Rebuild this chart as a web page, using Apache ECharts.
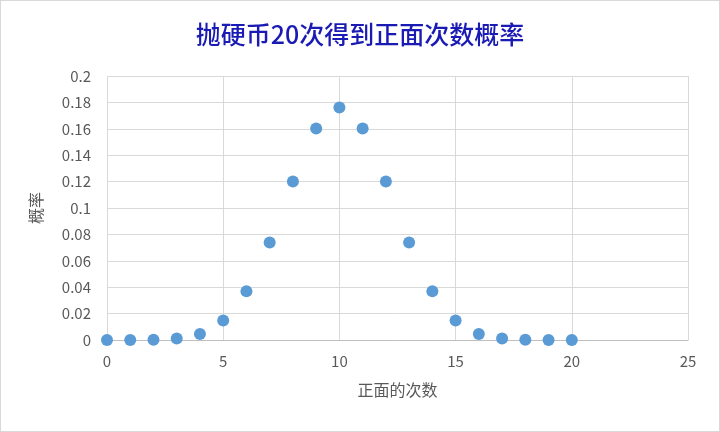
<!DOCTYPE html>
<html>
<head>
<meta charset="utf-8">
<script src="https://cdn.jsdelivr.net/npm/echarts@6/dist/echarts.min.js"></script>
<style>
  html, body { margin: 0; padding: 0; background: #fff; }
  #main { width: 720px; height: 432px; box-sizing: border-box; border: 1px solid #d9d9d9; }
</style>
</head>
<body>
<div id="main"></div>
<script>
// 正面次数 0..20
var heads = [0, 1, 2, 3, 4, 5, 6, 7, 8, 9, 10, 11, 12, 13, 14, 15, 16, 17, 18, 19, 20];
// 概率
var probs = [0.000001, 0.00002, 0.0002, 0.0011, 0.0046, 0.0148, 0.037, 0.0739, 0.1201, 0.1602, 0.1762,
             0.1602, 0.1201, 0.0739, 0.037, 0.0148, 0.0046, 0.0011, 0.0002, 0.00002, 0.000001];

(function (){
var dom = document.getElementById("main");
var myChart = echarts.init(dom);
var points = heads.map(function (h, i) { return [h, probs[i]]; });
var option = {
    animation: false,
    title: {
        text: '抛硬币20次得到正面次数概率',
        left: 'center',
        top: 16,
        textStyle: {
            color: '#1a1ab4',
            fontSize: 25,
            fontWeight: 500,
            fontFamily: 'Noto Sans CJK SC'
        }
    },
    grid: {
        left: 106,
        right: 31,
        top: 75,
        bottom: 91
    },
    xAxis: {
        type: 'value',
        min: 0,
        max: 25,
        interval: 5,
        name: '正面的次数',
        nameLocation: 'middle',
        nameGap: 42,
        nameTextStyle: { color: '#595959', fontSize: 16, fontFamily: 'Noto Sans CJK SC' },
        axisLine: { show: true, lineStyle: { color: '#bfbfbf' } },
        axisTick: { show: false },
        axisLabel: { color: '#595959', fontSize: 15, margin: 14, fontFamily: 'Noto Sans CJK SC' },
        splitLine: { show: true, lineStyle: { color: '#d9d9d9' } }
    },
    yAxis: {
        type: 'value',
        min: 0,
        max: 0.2,
        interval: 0.02,
        name: '概率',
        nameLocation: 'middle',
        nameGap: 63,
        nameTextStyle: { color: '#595959', fontSize: 16, fontFamily: 'Noto Sans CJK SC' },
        axisLine: { show: false },
        axisTick: { show: false },
        axisLabel: {
            color: '#595959', fontSize: 15, margin: 16, fontFamily: 'Noto Sans CJK SC',
            formatter: function (v) { return String(Math.round(v * 100) / 100); }
        },
        splitLine: { show: true, lineStyle: { color: '#d9d9d9' } }
    },
    series: [
        {
            name: '概率',
            type: 'scatter',
            symbol: 'circle',
            symbolSize: 12,
            itemStyle: { color: '#5b9bd5', opacity: 1 },
            data: points
        }
    ]
};
myChart.setOption(option, true);
})();
</script>
</body>
</html>
